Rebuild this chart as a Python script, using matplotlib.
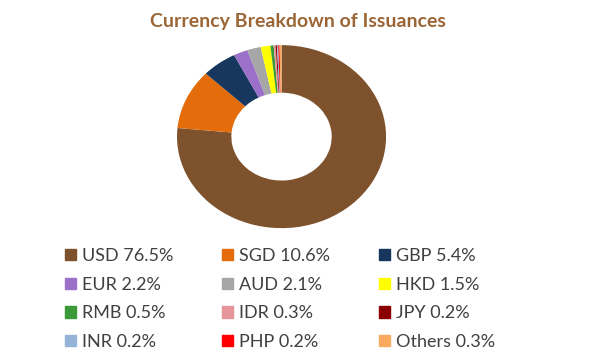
import matplotlib.pyplot as plt
import matplotlib.patches as patches

currencies = ["USD", "SGD", "GBP", "EUR", "AUD", "HKD", "RMB", "IDR", "JPY", "INR", "PHP", "Others"]
shares = [76.5, 10.6, 5.4, 2.2, 2.1, 1.5, 0.5, 0.3, 0.2, 0.2, 0.2, 0.3]
colors = ["#7D522C", "#E46C0A", "#17375E", "#9A70C8", "#A6A6A6", "#FFFF00",
          "#3A9A3A", "#E6959A", "#8B0000", "#95B3D7", "#FF0000", "#FAAA60"]

plt.rcParams['font.family'] = ['Lato', 'DejaVu Sans']

fig = plt.figure(figsize=(5.99, 3.57), dpi=100)
fig.text(0.497, 0.94, "Currency Breakdown of Issuances", ha="center", va="center",
         fontsize=14, fontweight="bold", color="#9B6535")

ax = fig.add_axes([0.2955, 0.361, 0.349, 0.5126])
wedges, _ = ax.pie(shares, colors=colors, startangle=90, counterclock=False,
                   wedgeprops=dict(width=0.52, linewidth=0))
ax.set_aspect("auto")
ax.set_xlim(-1, 1)
ax.set_ylim(-1, 1)
ax.axis("off")

handles = [patches.Rectangle((0, 0), 1, 1, color=c) for c in colors]
labels = [f"{c} {v}%" for c, v in zip(currencies, shares)]
order = [0, 3, 6, 9, 1, 4, 7, 10, 2, 5, 8, 11]
fig.legend([handles[i] for i in order], [labels[i] for i in order],
           ncol=3, loc="upper left", bbox_to_anchor=(0.108, 0.305),
           frameon=False, fontsize=13, labelcolor="#404040",
           handlelength=0.6, handleheight=0.6, handletextpad=0.35,
           columnspacing=2.7, labelspacing=0.7, borderpad=0, borderaxespad=0)

fig.savefig("out.png", dpi=100)
